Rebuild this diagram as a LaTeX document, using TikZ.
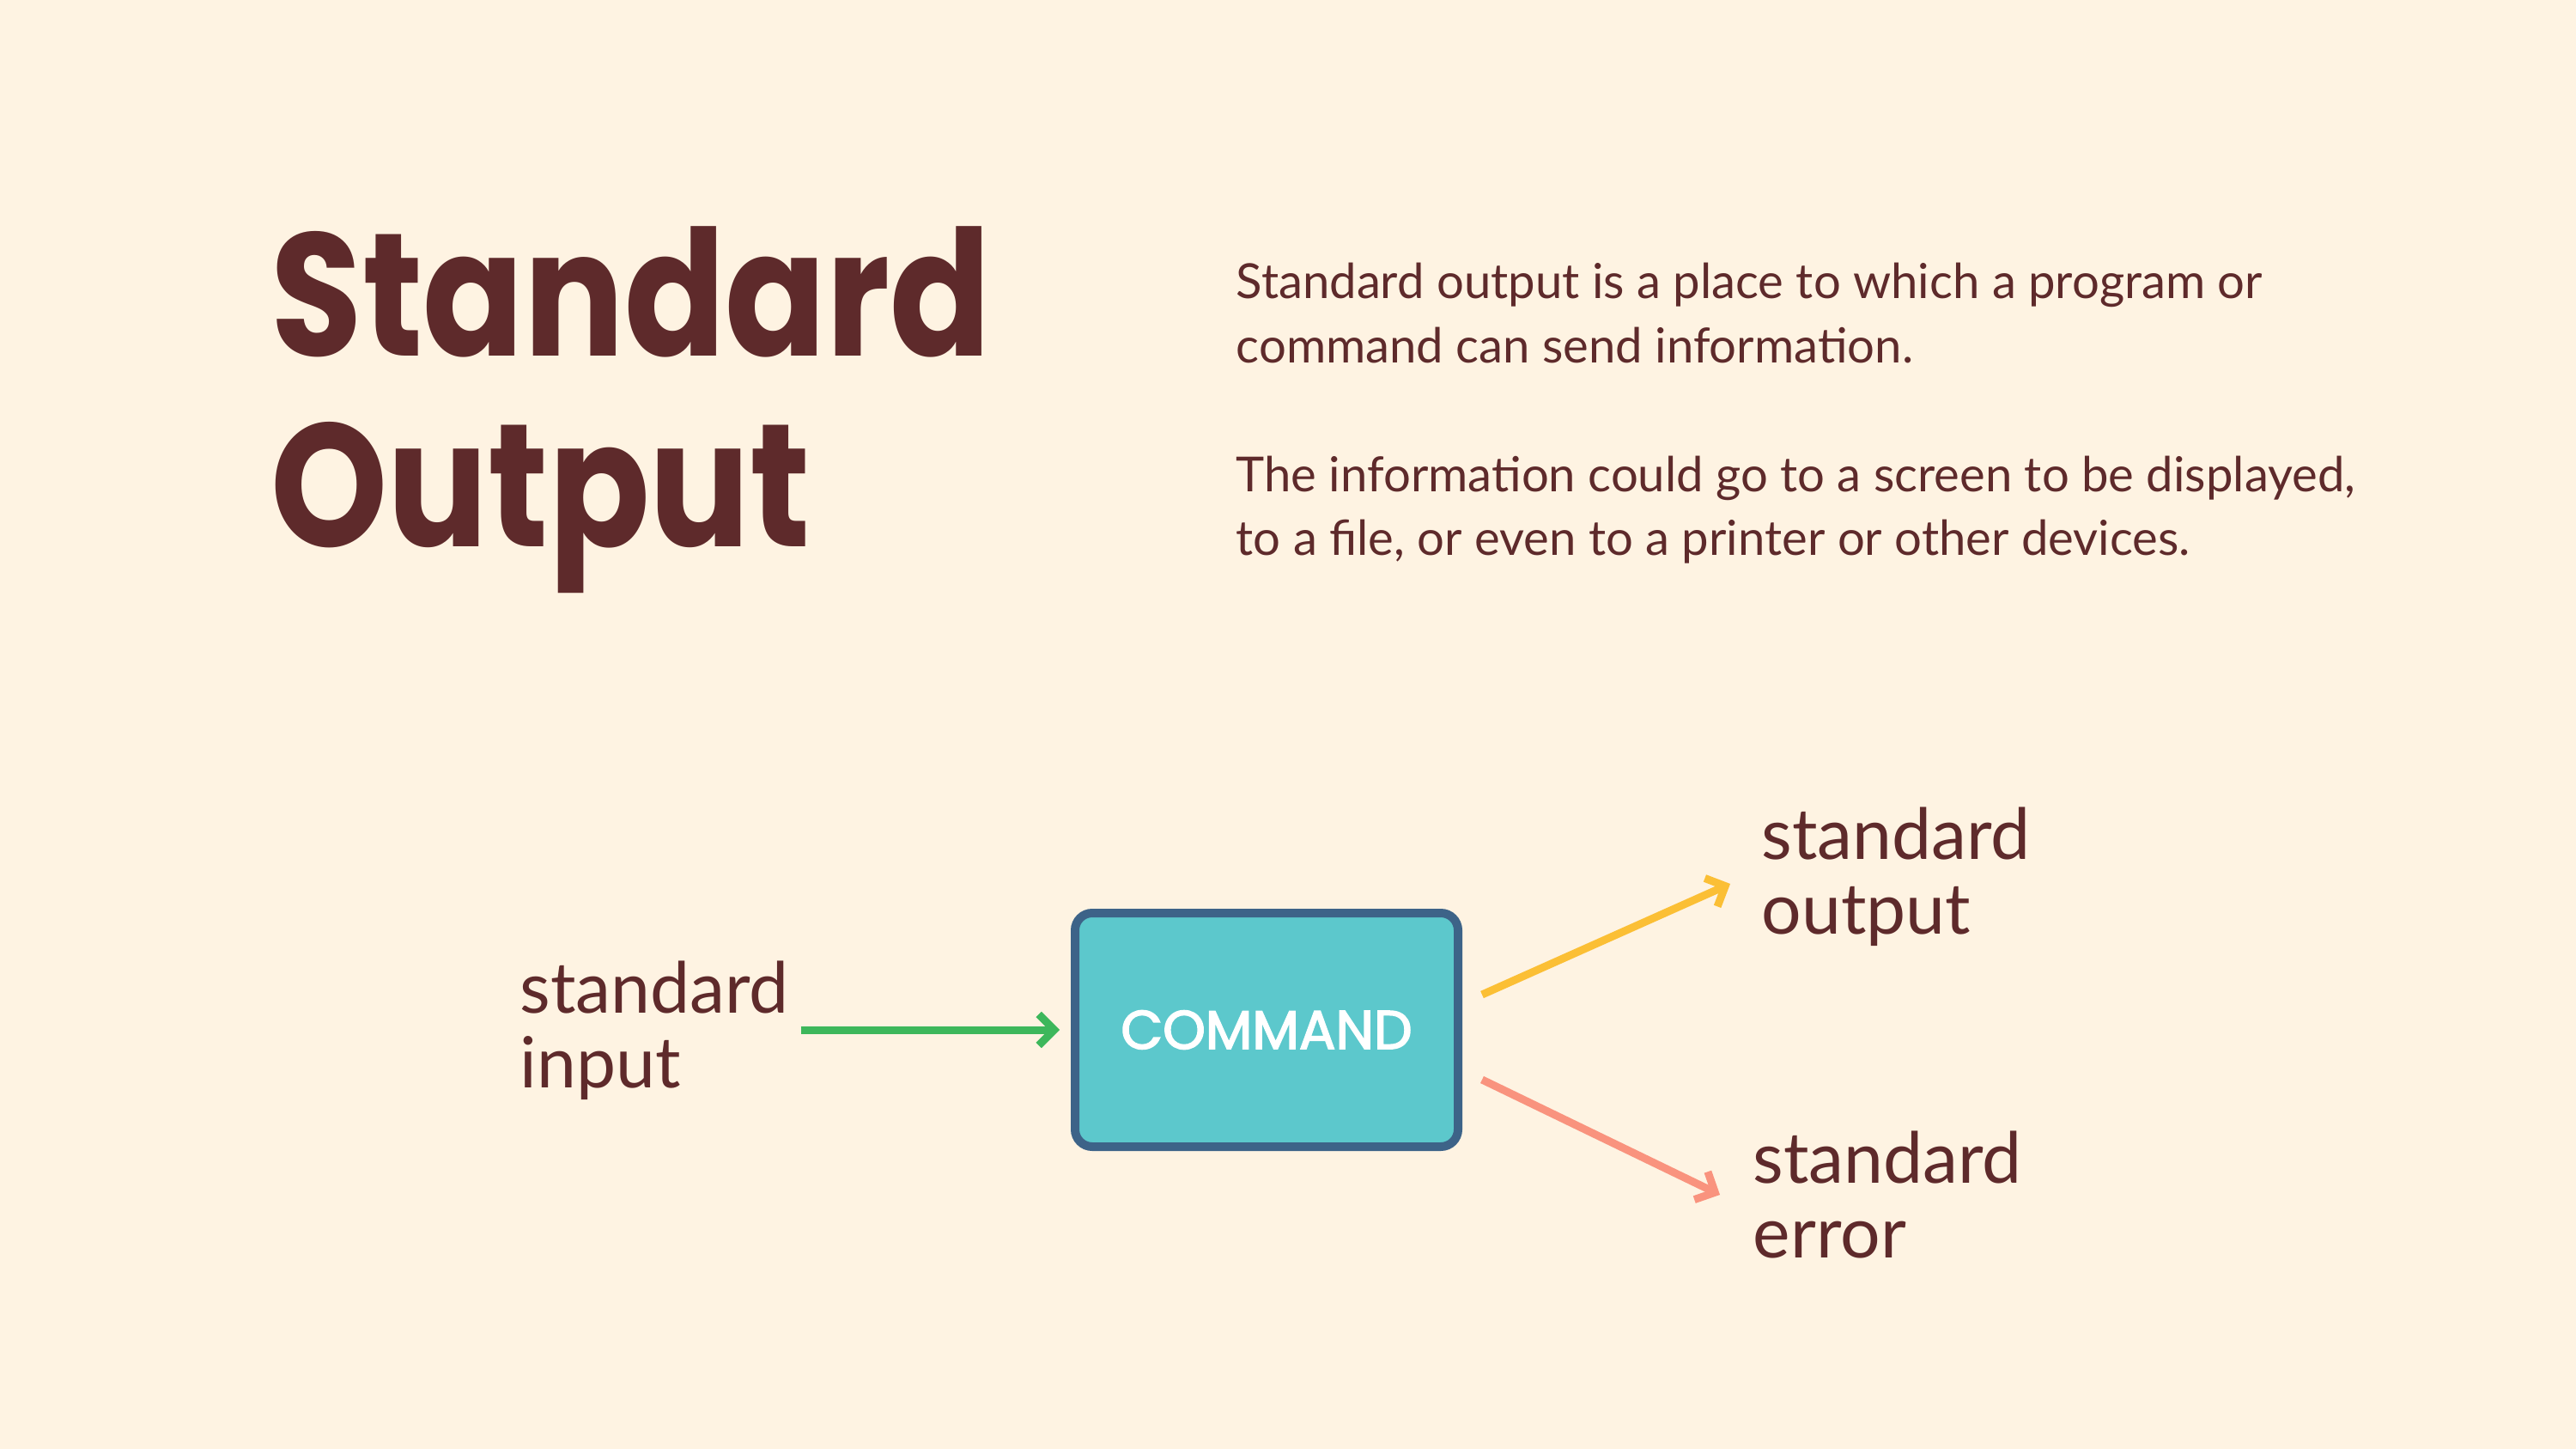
\documentclass[tikz,border=0pt]{standalone}
\usepackage{fontspec}
\usepackage{tikz}
\usetikzlibrary{arrows.meta, positioning, calc}
\usepackage{xcolor}
\newfontfamily\titlefont[FakeStretch=0.85]{Poppins}
\newfontfamily\bodyfont{Lato}
\newfontfamily\boxfont[FakeBold=2.5]{Poppins}
\definecolor{cream}{HTML}{FEF3E2}
\definecolor{maroon}{HTML}{5E2A2B}
\definecolor{cmdfill}{HTML}{5CC8CC}
\definecolor{cmdborder}{HTML}{3D6388}
\definecolor{ingreen}{HTML}{3DB75B}
\definecolor{outyellow}{HTML}{FBBF35}
\definecolor{errsalmon}{HTML}{F9937E}
\tikzstyle{heading} = [anchor=base west, inner sep=0pt, text=maroon,
                       font=\titlefont\bfseries\fontsize{58}{58}\selectfont]
\tikzstyle{para}    = [anchor=base west, inner sep=0pt, align=left, text=maroon,
                       font=\bodyfont\fontsize{16}{21.3}\selectfont]
\tikzstyle{command} = [rectangle, rounded corners=0.2cm, minimum width=4.46cm, minimum height=2.72cm,
                       draw=cmdborder, line width=0.1cm, fill=cmdfill, text=white,
                       font=\boxfont\fontsize{18}{18}\selectfont]
\tikzstyle{stream}  = [anchor=base west, inner sep=0pt, align=left, text=maroon,
                       font=\bodyfont\fontsize{23.4}{24.5}\selectfont]
\tikzstyle{arrow}   = [line width=0.09cm, -{Straight Barb[length=1.8mm, width=3.6mm]}]

\begin{document}
\begin{tikzpicture}

  % Background
  \fill[cream] (0,0) rectangle (30,-16.87);
  \useasboundingbox (0,0) rectangle (30,-16.87);

  % Title and text
  \node (title1) [heading] at (3.15, -4.15) {Standard};
  \node (title2) [heading] at (3.15, -6.37) {Output};
  \node (desc) [para] at (14.39, -6.47)
    {Standard output is a place to which a program or\\
     command can send information.\\[0.75cm]
     The information could go to a screen to be displayed,\\
     to a file, or even to a printer or other devices.};

  % Command box
  \node (cmd) [command] at (14.75, -11.99) {COMMAND};

  % Streams (base = last line)
  \node (inlab)  [stream] at (6.05, -12.66)  {standard\\input};
  \node (outlab) [stream] at (20.51, -10.87) {standard\\output};
  \node (errlab) [stream] at (20.41, -14.64) {standard\\error};

  % Input -> Command
  \draw[arrow, ingreen, shorten >=0.13cm] ([xshift=0.13cm]inlab.east |- cmd.west) -- (cmd.west);
  % Command -> Output
  \draw[arrow, outyellow] ([xshift=0.23cm, yshift=0.41cm]cmd.east)
    -- ([xshift=-0.36cm, yshift=0.58cm]outlab.base west);
  % Command -> Error
  \draw[arrow, errsalmon] ([xshift=0.23cm, yshift=-0.58cm]cmd.east)
    -- ([xshift=-0.38cm, yshift=0.73cm]errlab.base west);

\end{tikzpicture}
\end{document}
